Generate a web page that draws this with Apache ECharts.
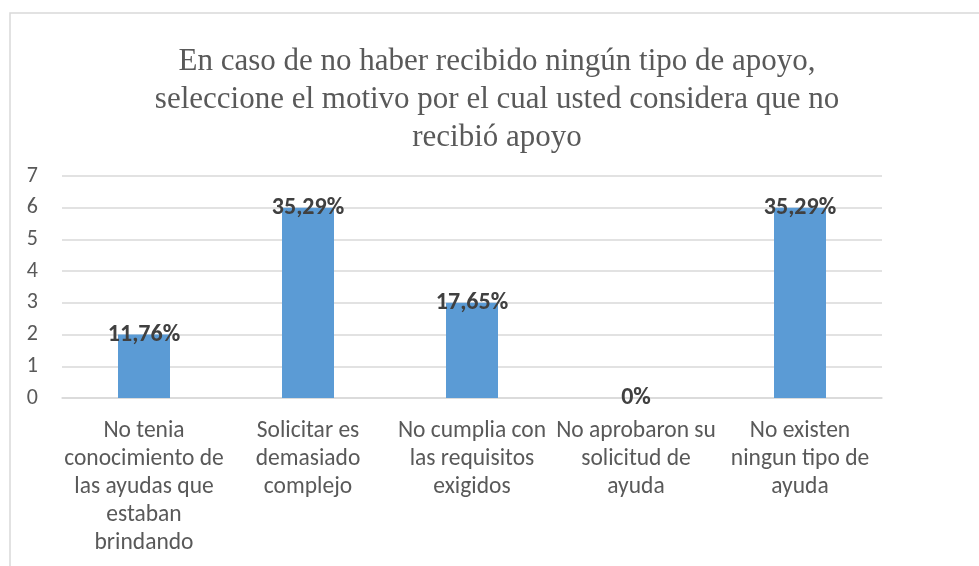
<!DOCTYPE html>
<html>
<head>
<meta charset="utf-8">
<script src="https://cdn.jsdelivr.net/npm/echarts@6/dist/echarts.min.js"></script>
<style>
  html, body { margin: 0; padding: 0; background: #fff; }
  #main { width: 979px; height: 566px; }
</style>
</head>
<body>
<div id="main"></div>
<script>
var titleText = 'En caso de no haber recibido ningún tipo de apoyo,\nseleccione el motivo por el cual usted considera que no\nrecibió apoyo';
var categories = [
  'No tenia\nconocimiento de\nlas ayudas que\nestaban\nbrindando',
  'Solicitar es\ndemasiado\ncomplejo',
  'No cumplia con\nlas requisitos\nexigidos',
  'No aprobaron su\nsolicitud de\nayuda',
  'No existen\nningun tipo de\nayuda'
];
var counts = [2, 6, 3, 0, 6];
var percentLabels = ['11,76%', '35,29%', '17,65%', '0%', '35,29%'];

var sansFont = 'Carlito, Lato, sans-serif';

var myChart = echarts.init(document.getElementById('main'));

var option = {
    backgroundColor: '#ffffff',
    animation: false,
    graphic: [{
        type: 'rect',
        shape: { x: 10, y: 13, width: 1000, height: 600 },
        style: { fill: 'none', stroke: '#d9d9d9', lineWidth: 1.5 },
        silent: true
    }],
    title: {
        text: titleText,
        left: 492,
        top: 38,
        textAlign: 'center',
        textStyle: {
            fontFamily: 'Liberation Serif, serif',
            fontSize: 31,
            fontWeight: 'normal',
            color: '#595959',
            lineHeight: 38
        }
    },
    grid: {
        left: 62,
        right: 97,
        top: 176,
        bottom: 168,
        containLabel: false
    },
    xAxis: {
        type: 'category',
        data: categories,
        axisLine: { lineStyle: { color: '#d9d9d9', width: 1.5 } },
        axisTick: { show: false },
        axisLabel: {
            interval: 0,
            margin: 19,
            color: '#595959',
            fontFamily: sansFont,
            fontSize: 23.5,
            lineHeight: 28
        }
    },
    yAxis: {
        type: 'value',
        min: 0,
        max: 7,
        interval: 1,
        axisLine: { show: false },
        axisTick: { show: false },
        axisLabel: {
            margin: 24,
            color: '#595959',
            fontFamily: sansFont,
            fontSize: 22
        },
        splitLine: { lineStyle: { color: '#d9d9d9', width: 1.5 } }
    },
    series: [{
        type: 'bar',
        data: counts,
        barWidth: 52,
        itemStyle: { color: '#5b9bd5' },
        label: {
            show: true,
            position: 'top',
            distance: -12,
            color: '#404040',
            fontFamily: sansFont,
            fontSize: 24,
            fontWeight: 'bold',
            formatter: function (p) { return percentLabels[p.dataIndex]; }
        }
    }]
};

myChart.setOption(option);
window.addEventListener('resize', function () {
    myChart.resize();
});
</script>
</body>
</html>
